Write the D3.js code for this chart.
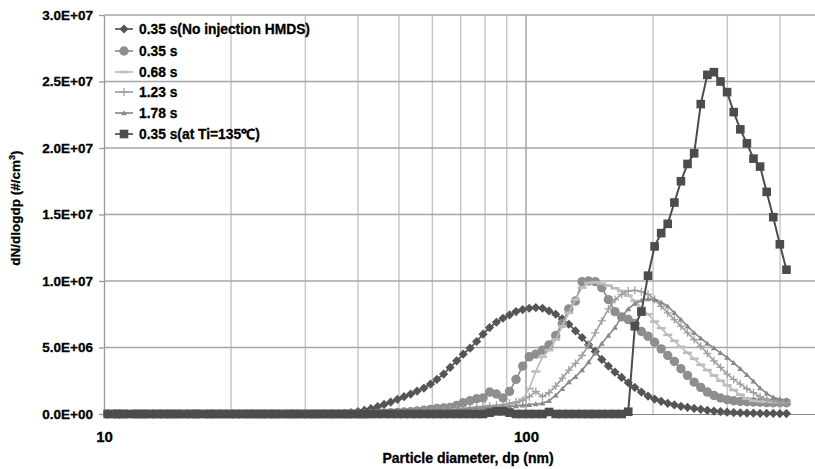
<!DOCTYPE html>
<html>
<head>
<meta charset="utf-8">
<script src="https://cdnjs.cloudflare.com/ajax/libs/d3/7.8.5/d3.min.js"></script>
<style>
body { margin: 0; background: #fff; }
text { font-family: "Liberation Sans", Arial, sans-serif; font-weight: bold; fill: #000; stroke: #000; stroke-width: 0.3px; }
</style>
</head>
<body>
<div id="chart"></div>
<script>
// SMPS channel midpoints (nm)
var diameters = [
  10.2, 10.6, 10.9, 11.3, 11.8, 12.2, 12.6, 13.1, 13.6, 14.1,
  14.6, 15.1, 15.7, 16.3, 16.8, 17.5, 18.1, 18.8, 19.5, 20.2,
  20.9, 21.7, 22.5, 23.3, 24.1, 25.0, 25.9, 26.9, 27.9, 28.9,
  30.0, 31.1, 32.2, 33.4, 34.6, 35.9, 37.2, 38.5, 40.0, 41.4,
  42.9, 44.5, 46.1, 47.8, 49.6, 51.4, 53.3, 55.2, 57.3, 59.4,
  61.5, 63.8, 66.1, 68.5, 71.0, 73.7, 76.4, 79.1, 82.0, 85.1,
  88.2, 91.4, 94.7, 98.2, 101.8, 105.5, 109.4, 113.4, 117.6, 121.9,
  126.3, 131.0, 135.8, 140.7, 145.9, 151.2, 156.8, 162.5, 168.5, 174.7,
  181.1, 187.7, 194.6, 201.7, 209.1, 216.7, 224.7, 232.9, 241.4, 250.3,
  259.5, 269.0, 278.8, 289.0, 299.6, 310.6, 322.0, 333.8, 346.0, 358.7,
  371.8, 385.4, 399.5, 414.2
];

// dN/dlogdp, in units of 1E+06 #/cm3
var noInjection = [
  0, 0, 0, 0, 0, 0, 0, 0, 0, 0,
  0, 0, 0, 0, 0, 0, 0, 0, 0, 0,
  0, 0, 0, 0, 0, 0, 0, 0, 0, 0,
  0, 0, 0, 0, 0, 0.02, 0.05, 0.1, 0.18, 0.28,
  0.4, 0.55, 0.72, 0.9, 1.1, 1.3, 1.5, 1.72, 1.95, 2.25,
  2.6, 3.0, 3.5, 4.0, 4.5, 4.95, 5.45, 6.0, 6.5, 6.9,
  7.2, 7.45, 7.7, 7.85, 7.95, 8.0, 7.95, 7.75, 7.5, 7.15,
  6.75, 6.25, 5.75, 5.2, 4.7, 4.1, 3.6, 3.15, 2.75, 2.35,
  2.0, 1.65, 1.35, 1.12, 0.95, 0.8, 0.68, 0.58, 0.5, 0.42,
  0.35, 0.28, 0.22, 0.18, 0.14, 0.11, 0.09, 0.07, 0.06, 0.05,
  0.04, 0.04, 0.03, 0.03
];
var t035 = [
  0, 0, 0, 0, 0, 0, 0, 0, 0, 0,
  0, 0, 0, 0, 0, 0, 0, 0, 0, 0,
  0, 0, 0, 0, 0, 0, 0, 0, 0, 0,
  0, 0, 0, 0, 0, 0, 0, 0, 0, 0,
  0.03, 0.05, 0.08, 0.1, 0.12, 0.15, 0.18, 0.22, 0.28, 0.35,
  0.42, 0.45, 0.5, 0.65, 0.85, 1.0, 1.15, 1.2, 1.65, 1.5,
  1.2, 1.7, 2.6, 3.6, 4.3, 4.5, 4.8, 5.2, 5.9, 6.8,
  7.9, 8.5, 9.95, 10.0, 9.95, 9.5, 8.6, 7.7, 7.3, 7.1,
  6.8, 6.2, 5.85, 5.4, 4.9, 4.4, 3.95, 3.4, 2.9, 2.4,
  2.0, 1.65, 1.4, 1.2, 1.08, 1.0, 0.95, 0.92, 0.9, 0.88,
  0.86, 0.85, 0.85, 0.85
];
var t068 = [
  0, 0, 0, 0, 0, 0, 0, 0, 0, 0,
  0, 0, 0, 0, 0, 0, 0, 0, 0, 0,
  0, 0, 0, 0, 0, 0, 0, 0, 0, 0,
  0, 0, 0, 0, 0, 0, 0, 0, 0, 0,
  0, 0, 0, 0, 0, 0.05, 0.08, 0.1, 0.12, 0.15,
  0.18, 0.22, 0.28, 0.35, 0.4, 0.45, 0.5, 0.55, 0.6, 0.6,
  0.65, 0.7, 0.8, 1.1, 1.9, 3.2, 4.3, 4.8, 5.6, 6.6,
  7.6, 8.6, 9.5, 9.85, 9.9, 9.8, 9.65, 9.45, 9.25, 8.9,
  8.5, 8.0, 7.5, 6.95, 6.45, 5.95, 5.5, 5.05, 4.6, 4.15,
  3.7, 3.3, 2.9, 2.5, 2.15, 1.8, 1.45, 1.15, 1.0, 0.95,
  0.92, 0.9, 0.9, 0.9
];
var t123 = [
  0, 0, 0, 0, 0, 0, 0, 0, 0, 0,
  0, 0, 0, 0, 0, 0, 0, 0, 0, 0,
  0, 0, 0, 0, 0, 0, 0, 0, 0, 0,
  0, 0, 0, 0, 0, 0, 0, 0, 0, 0,
  0, 0, 0, 0, 0, 0.05, 0.08, 0.1, 0.12, 0.15,
  0.2, 0.25, 0.3, 0.35, 0.4, 0.45, 0.5, 0.55, 0.6, 0.65,
  0.7, 0.8, 0.9, 1.0, 1.3, 1.7, 1.3, 1.6, 2.1, 2.7,
  3.3, 3.8, 4.4, 5.2, 6.1, 7.0, 7.9, 8.6, 9.0, 9.25,
  9.3, 9.2, 9.0, 8.6, 8.1, 7.6, 7.1, 6.6, 6.1, 5.6,
  5.1, 4.55, 4.0, 3.5, 3.0, 2.6, 2.25, 1.9, 1.6, 1.3,
  1.1, 0.95, 0.9, 0.9
];
var t178 = [
  0, 0, 0, 0, 0, 0, 0, 0, 0, 0,
  0, 0, 0, 0, 0, 0, 0, 0, 0, 0,
  0, 0, 0, 0, 0, 0, 0, 0, 0, 0,
  0, 0, 0, 0, 0, 0, 0, 0, 0, 0,
  0, 0, 0, 0, 0, 0.05, 0.07, 0.1, 0.12, 0.15,
  0.18, 0.2, 0.25, 0.3, 0.35, 0.4, 0.42, 0.45, 0.5, 0.5,
  0.55, 0.55, 0.6, 0.65, 0.7, 0.75, 0.8, 1.0, 1.4, 1.9,
  2.4, 2.8, 3.3, 3.9, 4.6, 5.3, 5.9, 6.5, 7.3, 7.9,
  8.3, 8.55, 8.65, 8.6, 8.4, 8.1, 7.6, 7.1, 6.6, 6.1,
  5.7, 5.3, 4.95, 4.6, 4.25, 3.85, 3.4, 2.95, 2.45, 1.95,
  1.55, 1.25, 1.1, 1.05
];
var ti135 = [
  0, 0, 0, 0, 0, 0, 0, 0, 0, 0,
  0, 0, 0, 0, 0, 0, 0, 0, 0, 0,
  0, 0, 0, 0, 0, 0, 0, 0, 0, 0,
  0, 0, 0, 0, 0, 0, 0, 0, 0, 0,
  0, 0, 0, 0, 0, 0, 0, 0, 0, 0,
  0, 0, 0, 0, 0, 0, 0, 0, 0.1, 0.2,
  0.2, 0.1, 0, 0, 0, 0, 0, 0.15, 0, 0,
  0, 0, 0, 0, 0, 0, 0, 0, 0, 0.17,
  6.6, 7.7, 10.4, 12.6, 13.6, 14.3, 15.9, 17.5, 18.8, 19.6,
  23.3, 25.5, 25.7, 25.0, 24.2, 22.7, 21.4, 20.35, 19.2, 18.6,
  16.7, 14.8, 12.76, 10.85
];

var seriesNames = ["0.35 s(No injection HMDS)", "0.35 s", "0.68 s", "1.23 s", "1.78 s", "0.35 s(at Ti=135\u2103)"];
var seriesValues = [noInjection, t035, t068, t123, t178, ti135];

var yTicks = [0, 5e6, 1e7, 1.5e7, 2e7, 2.5e7, 3e7];
var yTickLabels = ["0.0E+00", "5.0E+06", "1.0E+07", "1.5E+07", "2.0E+07", "2.5E+07", "3.0E+07"];
var xTicks = [10, 100];
var xTickLabels = ["10", "100"];
var xMinorGrid = [20, 30, 40, 50, 60, 70, 80, 90, 200, 300, 400, 500];

// look of each series
var styles = [
  { color: "#555555", marker: "diamond" },
  { color: "#8e8e8e", marker: "circle" },
  { color: "#bdbdbd", marker: "dash" },
  { color: "#a0a0a0", marker: "plus" },
  { color: "#8a8a8a", marker: "triangle" },
  { color: "#4c4c4c", marker: "square" }
];

var W = 815, H = 469;
var padL = 104, padT = 15, plotBottom = 414, plotRight = 815;

var svg = d3.select("#chart").append("svg")
  .attr("width", W)
  .attr("height", H);

var x = d3.scaleLog().domain([10, 1000]).range([padL, padL + 2 * 422]);
var y = d3.scaleLinear().domain([0, 3e7]).range([plotBottom, padT]);

svg.append("clipPath").attr("id", "plotclip")
  .append("rect")
  .attr("x", padL - 6).attr("y", padT - 8)
  .attr("width", plotRight - padL + 6).attr("height", plotBottom - padT + 16);

// vertical grid
svg.append("g").selectAll("line")
  .data(xMinorGrid.filter(function(d) { return x(d) <= plotRight; }))
  .enter().append("line")
  .attr("x1", function(d) { return x(d); })
  .attr("x2", function(d) { return x(d); })
  .attr("y1", padT).attr("y2", plotBottom)
  .attr("stroke", "#c4c4c4")
  .attr("stroke-width", 1.4);

svg.append("line")
  .attr("x1", x(100)).attr("x2", x(100))
  .attr("y1", padT).attr("y2", plotBottom)
  .attr("stroke", "#959595")
  .attr("stroke-width", 1.3);

// horizontal grid
svg.append("g").selectAll("line")
  .data(yTicks.slice(1))
  .enter().append("line")
  .attr("x1", padL).attr("x2", plotRight)
  .attr("y1", function(d) { return y(d); })
  .attr("y2", function(d) { return y(d); })
  .attr("stroke", "#a6a6a6")
  .attr("stroke-width", 1.5);

// y axis
var yAxis = svg.append("g")
  .attr("transform", "translate(" + padL + ",0)")
  .call(d3.axisLeft(y).tickValues(yTicks)
    .tickFormat(function(d, i) { return yTickLabels[i]; })
    .tickSize(5).tickSizeOuter(0).tickPadding(6));
yAxis.select(".domain").attr("stroke", "#999").attr("stroke-width", 1.3);
yAxis.selectAll(".tick line").attr("stroke", "#999").attr("stroke-width", 1.3);
yAxis.selectAll("text").attr("font-size", 13.5).attr("fill", "#000")
  .style("font-family", "'Liberation Sans', Arial, sans-serif").style("font-weight", "bold");

// x axis
var xAxis = svg.append("g")
  .attr("transform", "translate(0," + plotBottom + ")")
  .call(d3.axisBottom(x).tickValues(xTicks)
    .tickFormat(function(d, i) { return xTickLabels[i]; })
    .tickSize(0).tickPadding(17));
xAxis.select(".domain").attr("d", "M" + padL + ",0.5H" + plotRight).attr("stroke", "#888").attr("stroke-width", 1.2);
xAxis.selectAll("text").attr("font-size", 15).attr("fill", "#000")
  .style("font-family", "'Liberation Sans', Arial, sans-serif").style("font-weight", "bold");

// axis titles
svg.append("text")
  .attr("x", 468).attr("y", 463)
  .attr("text-anchor", "middle")
  .attr("font-size", 14)
  .text("Particle diameter, dp (nm)");

var yTitle = svg.append("text")
  .attr("transform", "translate(20,208) rotate(-90)")
  .attr("text-anchor", "middle")
  .attr("font-size", 13.5);
yTitle.append("tspan").text("dN/dlogdp (#/cm");
yTitle.append("tspan").attr("font-size", 9).attr("dy", -5).text("3");
yTitle.append("tspan").attr("dy", 5).text(")");

// marker shapes
function drawMarker(g, type, color) {
  if (type === "diamond") {
    g.append("path").attr("d", "M0,-4.6L4.6,0L0,4.6L-4.6,0Z").attr("fill", color);
  } else if (type === "circle") {
    g.append("circle").attr("r", 4.7).attr("fill", color);
  } else if (type === "dash") {
    g.append("rect").attr("x", -4.5).attr("y", -1.3).attr("width", 9).attr("height", 2.6).attr("fill", color);
  } else if (type === "plus") {
    g.append("path").attr("d", "M-4,0H4M0,-4V4").attr("stroke", color).attr("stroke-width", 1.3);
  } else if (type === "triangle") {
    g.append("path").attr("d", "M-3,2.2L3,2.2L0,-2.8Z").attr("fill", color);
  } else if (type === "square") {
    g.append("rect").attr("x", -4.3).attr("y", -4.3).attr("width", 8.6).attr("height", 8.6).attr("fill", color);
  }
}

var line = d3.line()
  .x(function(d) { return x(d.d); })
  .y(function(d) { return y(d.v * 1e6); });

var plot = svg.append("g").attr("clip-path", "url(#plotclip)");

seriesValues.forEach(function(vals, k) {
  var pts = diameters.map(function(d, i) { return { d: d, v: vals[i] }; });
  var st = styles[k];
  plot.append("path")
    .datum(pts)
    .attr("d", line)
    .attr("fill", "none")
    .attr("stroke", st.color)
    .attr("stroke-width", k === 5 ? 2 : 1.7);
  plot.append("g").selectAll("g")
    .data(pts)
    .enter().append("g")
    .attr("transform", function(d) { return "translate(" + x(d.d) + "," + y(d.v * 1e6) + ")"; })
    .each(function() { drawMarker(d3.select(this), st.marker, st.color); });
});

// legend
var legend = svg.append("g");
var rowY = [29, 51, 72, 92, 113, 134];
seriesNames.forEach(function(name, k) {
  var g = legend.append("g").attr("transform", "translate(115," + rowY[k] + ")");
  g.append("line").attr("x1", 0).attr("x2", 18).attr("y1", 0).attr("y2", 0)
    .attr("stroke", styles[k].color).attr("stroke-width", 1.7);
  drawMarker(g.append("g").attr("transform", "translate(9,0)"), styles[k].marker, styles[k].color);
  g.append("text").attr("x", 24).attr("y", 5).attr("font-size", 13.8).text(name);
});
</script>
</body>
</html>
